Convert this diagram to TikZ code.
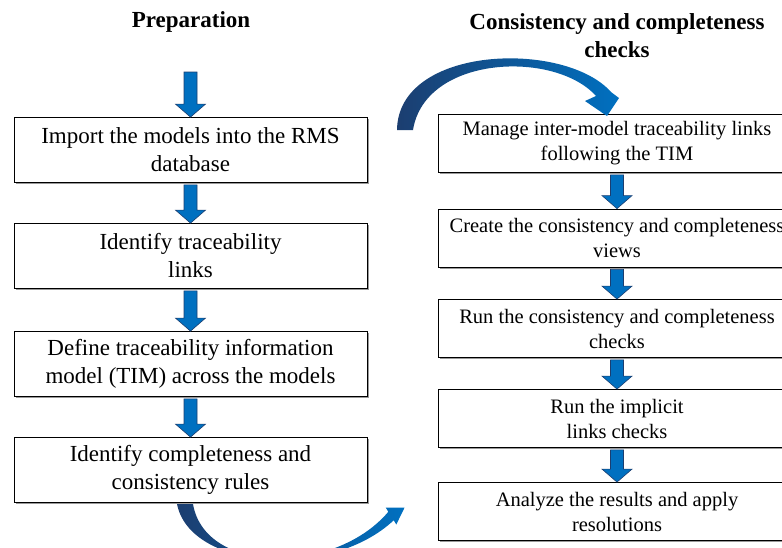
\documentclass[tikz,border=0pt]{standalone}
\usepackage{fontspec}
\setmainfont{Liberation Serif}
\usetikzlibrary{calc, shadows}
\definecolor{flow blue}{RGB}{0,112,192}
\definecolor{flow dark}{RGB}{28,62,112}

\tikzset{
  stepbox/.style={draw=black, fill=white, line width=0.8pt, align=center, inner sep=2pt,
    drop shadow={shadow xshift=1.6pt, shadow yshift=-1.6pt, fill=gray!80, opacity=1}},
  leftbox/.style={stepbox, minimum width=353pt, minimum height=65pt, font=\fontsize{23}{28}\selectfont},
  rightbox/.style={stepbox, minimum width=358pt, minimum height=58pt, font=\fontsize{20.5}{25}\selectfont},
  heading/.style={font=\fontsize{23}{28}\selectfont\bfseries, align=center},
  blockarrow/.style={fill=flow blue, draw=flow dark, line width=0.6pt},
  curvearrow/.style={left color=flow dark, right color=flow blue, draw=none}
}

% straight block arrow pointing down
\newcommand{\blockdown}[2]{%
  \path[blockarrow] let \p1=(#1), \p2=(#2) in
    (\x1-6.5pt,\y1) -- (\x1+6.5pt,\y1) -- (\x1+6.5pt,\y2+13pt) -- (\x1+15pt,\y2+13pt)
    -- (\x1,\y2) -- (\x1-15pt,\y2+13pt) -- (\x1-6.5pt,\y2+13pt) -- cycle;}

\begin{document}
\begin{tikzpicture}[x=1pt, y=-1pt]
  \useasboundingbox (0,0) rectangle (782,547);

  % headings
  \node[heading] (prep) at (191,22) {Preparation};
  \node[heading] (checks) at (617,36) {Consistency and completeness\\checks};

  % preparation column
  \node[leftbox] (imp) at (190.5,150) {Import the models into the RMS\\database};
  \node[leftbox] (ident) at (190.5,256) {Identify traceability\\links};
  \node[leftbox] (tim) at (190.5,364) {Define traceability information\\model (TIM) across the models};
  \node[leftbox] (rules) at (190.5,470) {Identify completeness and\\consistency rules};

  % checks column
  \node[rightbox] (manage) at (617,143.5) {Manage inter-model traceability links\\following the TIM};
  \node[rightbox] (views) at (617,238) {Create the consistency and completeness\\views};
  \node[rightbox] (runcc) at (617,328.5) {Run the consistency and completeness\\checks};
  \node[rightbox] (implicit) at (617,418.5) {Run the implicit\\links checks};
  \node[rightbox] (analyze) at (617,511.5) {Analyze the results and apply\\resolutions};

  % block arrows
  \coordinate (start) at (190.5,72);
  \blockdown{start}{imp.north}
  \blockdown{$(imp.south)+(0,2)$}{ident.north}
  \blockdown{$(ident.south)+(0,2)$}{tim.north}
  \blockdown{$(tim.south)+(0,2)$}{rules.north}
  \blockdown{$(manage.south)+(0,2)$}{views.north}
  \blockdown{$(views.south)+(0,2)$}{runcc.north}
  \blockdown{$(runcc.south)+(0,2)$}{implicit.north}
  \blockdown{$(implicit.south)+(0,2)$}{analyze.north}

  % curved arrows between the columns
  \path[curvearrow] (397,130) .. controls (398,45) and (565,40) .. (611,92)
    -- (619,98) -- (607,116) -- (585,101) -- (596,96)
    .. controls (555,50) and (425,55) .. (413,130) -- cycle;
  \path[curvearrow] (177,504) .. controls (190,570) and (330,580) .. (393.7,520.3)
    -- (396.3,524.5) -- (404.6,507.5) -- (385.7,507.5) -- (388.3,511.8)
    .. controls (335,575) and (205,575) .. (193,504) -- cycle;
\end{tikzpicture}
\end{document}
